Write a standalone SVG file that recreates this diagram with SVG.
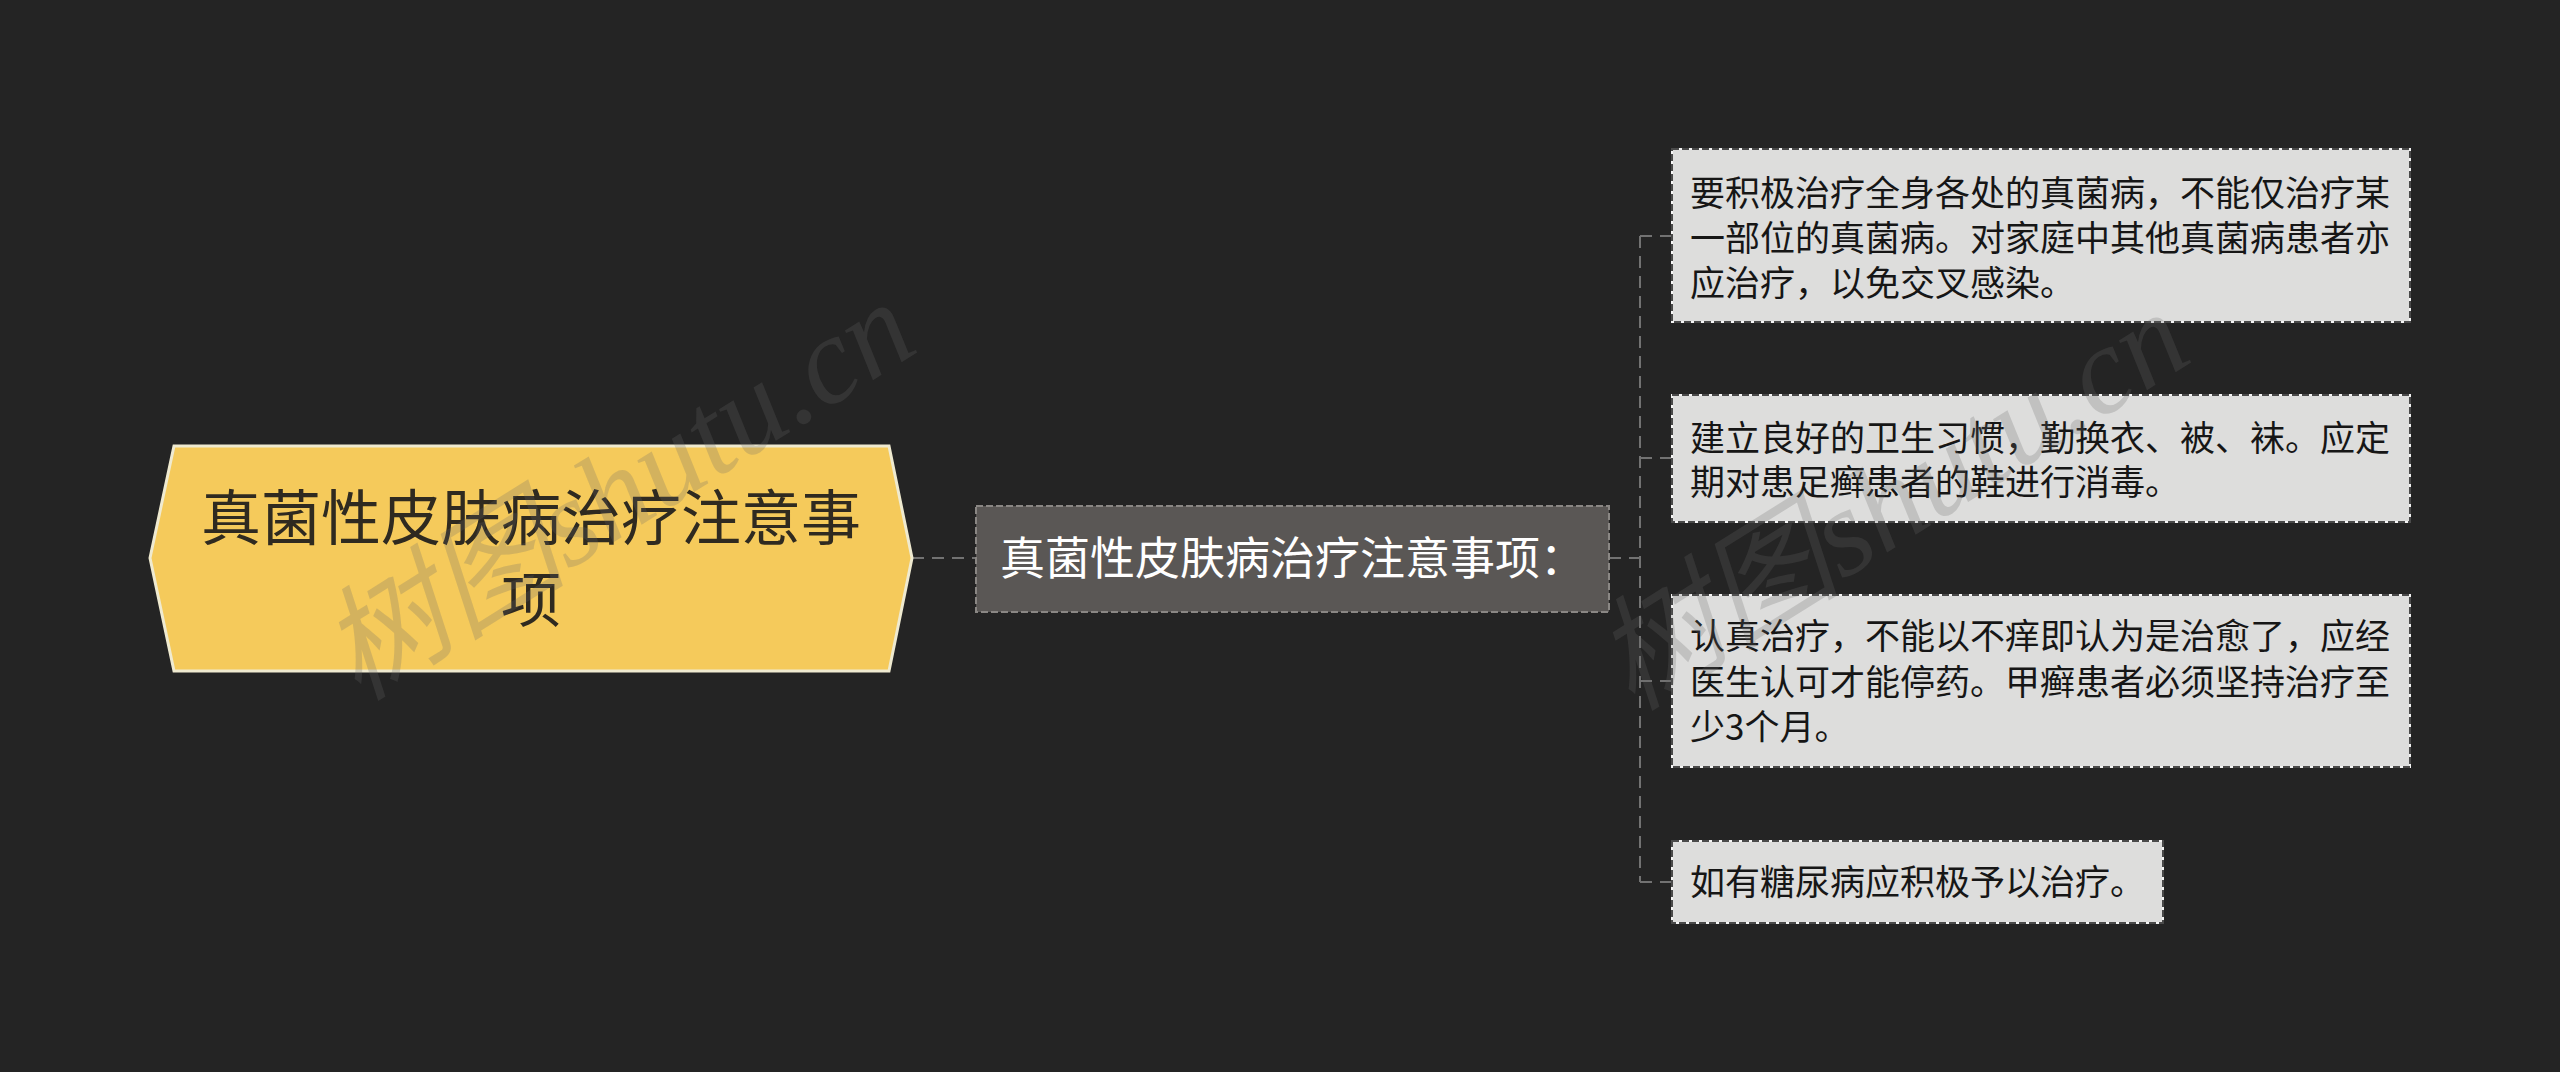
<svg xmlns="http://www.w3.org/2000/svg" width="2560" height="1072" viewBox="0 0 2560 1072">
<style>
.cjk{font-family:"Noto Sans CJK SC","Noto Sans",sans-serif}
.conn{fill:none;stroke:#727272;stroke-width:2;stroke-dasharray:12 8}
.leafbox{fill:#dddddc}
.leafedge{fill:none;stroke:#f4f4f4;stroke-width:2}
.leafdash{fill:none;stroke:#4a4a4a;stroke-width:2;stroke-dasharray:7 3}
.leaftext{font-size:35px;fill:#161616}
.wm{font-size:124px;fill:#6a6a6a;fill-opacity:0.24}
</style>
<rect width="2560" height="1072" fill="#242424"/>
<g id="connectors">
<path class="conn" d="M912 558 H976"/>
<path class="conn" d="M1609 558 H1640"/>
<path class="conn" d="M1640 236 V882"/>
<path class="conn" d="M1640 236 H1672"/>
<path class="conn" d="M1640 458 H1672"/>
<path class="conn" d="M1640 681 H1672"/>
<path class="conn" d="M1640 882 H1672"/>
</g>
<g id="root">
<polygon points="150,558 174,446 889,446 912,558 889,671 174,671" fill="#f5ca5b" stroke="#efead0" stroke-width="3"/>
<text class="cjk" x="531" y="540" font-size="60" fill="#2f2a20" text-anchor="middle">真菌性皮肤病治疗注意事</text>
<text class="cjk" x="531" y="622" font-size="60" fill="#2f2a20" text-anchor="middle">项</text>
</g>
<g id="middle">
<rect x="976" y="506" width="633" height="106" fill="#5a5755" stroke="#8a8784" stroke-width="2" stroke-dasharray="7 3"/>
<text class="cjk" x="1000" y="575" font-size="45" fill="#ffffff">真菌性皮肤病治疗注意事项：</text>
</g>
<g id="leaf1">
<rect class="leafbox" x="1672" y="149" width="738" height="173"/>
<rect class="leafedge" x="1672" y="149" width="738" height="173"/>
<rect class="leafdash" x="1672" y="149" width="738" height="173"/>
<text class="cjk leaftext" x="1690" y="206">要积极治疗全身各处的真菌病，不能仅治疗某</text>
<text class="cjk leaftext" x="1690" y="251">一部位的真菌病。对家庭中其他真菌病患者亦</text>
<text class="cjk leaftext" x="1690" y="296">应治疗，以免交叉感染。</text>
</g>
<g id="leaf2">
<rect class="leafbox" x="1672" y="395" width="738" height="127"/>
<rect class="leafedge" x="1672" y="395" width="738" height="127"/>
<rect class="leafdash" x="1672" y="395" width="738" height="127"/>
<text class="cjk leaftext" x="1690" y="451">建立良好的卫生习惯，勤换衣、被、袜。应定</text>
<text class="cjk leaftext" x="1690" y="495">期对患足癣患者的鞋进行消毒。</text>
</g>
<g id="leaf3">
<rect class="leafbox" x="1672" y="595" width="738" height="172"/>
<rect class="leafedge" x="1672" y="595" width="738" height="172"/>
<rect class="leafdash" x="1672" y="595" width="738" height="172"/>
<text class="cjk leaftext" x="1690" y="649">认真治疗，不能以不痒即认为是治愈了，应经</text>
<text class="cjk leaftext" x="1690" y="695">医生认可才能停药。甲癣患者必须坚持治疗至</text>
<text class="cjk leaftext" x="1690" y="740">少3个月。</text>
</g>
<g id="leaf4">
<rect class="leafbox" x="1672" y="841" width="491" height="82"/>
<rect class="leafedge" x="1672" y="841" width="491" height="82"/>
<rect class="leafdash" x="1672" y="841" width="491" height="82"/>
<text class="cjk leaftext" x="1690" y="895">如有糖尿病应积极予以治疗。</text>
</g>
<g id="watermarks">
<text class="wm" x="358" y="702" transform="rotate(-32 358 702)" font-family="Liberation Serif,Noto Sans CJK SC,serif" font-style="italic">树图shutu.cn</text>
<text class="wm" x="1632" y="712" transform="rotate(-32 1632 712)" font-family="Liberation Serif,Noto Sans CJK SC,serif" font-style="italic">树图shutu.cn</text>
</g>
</svg>
